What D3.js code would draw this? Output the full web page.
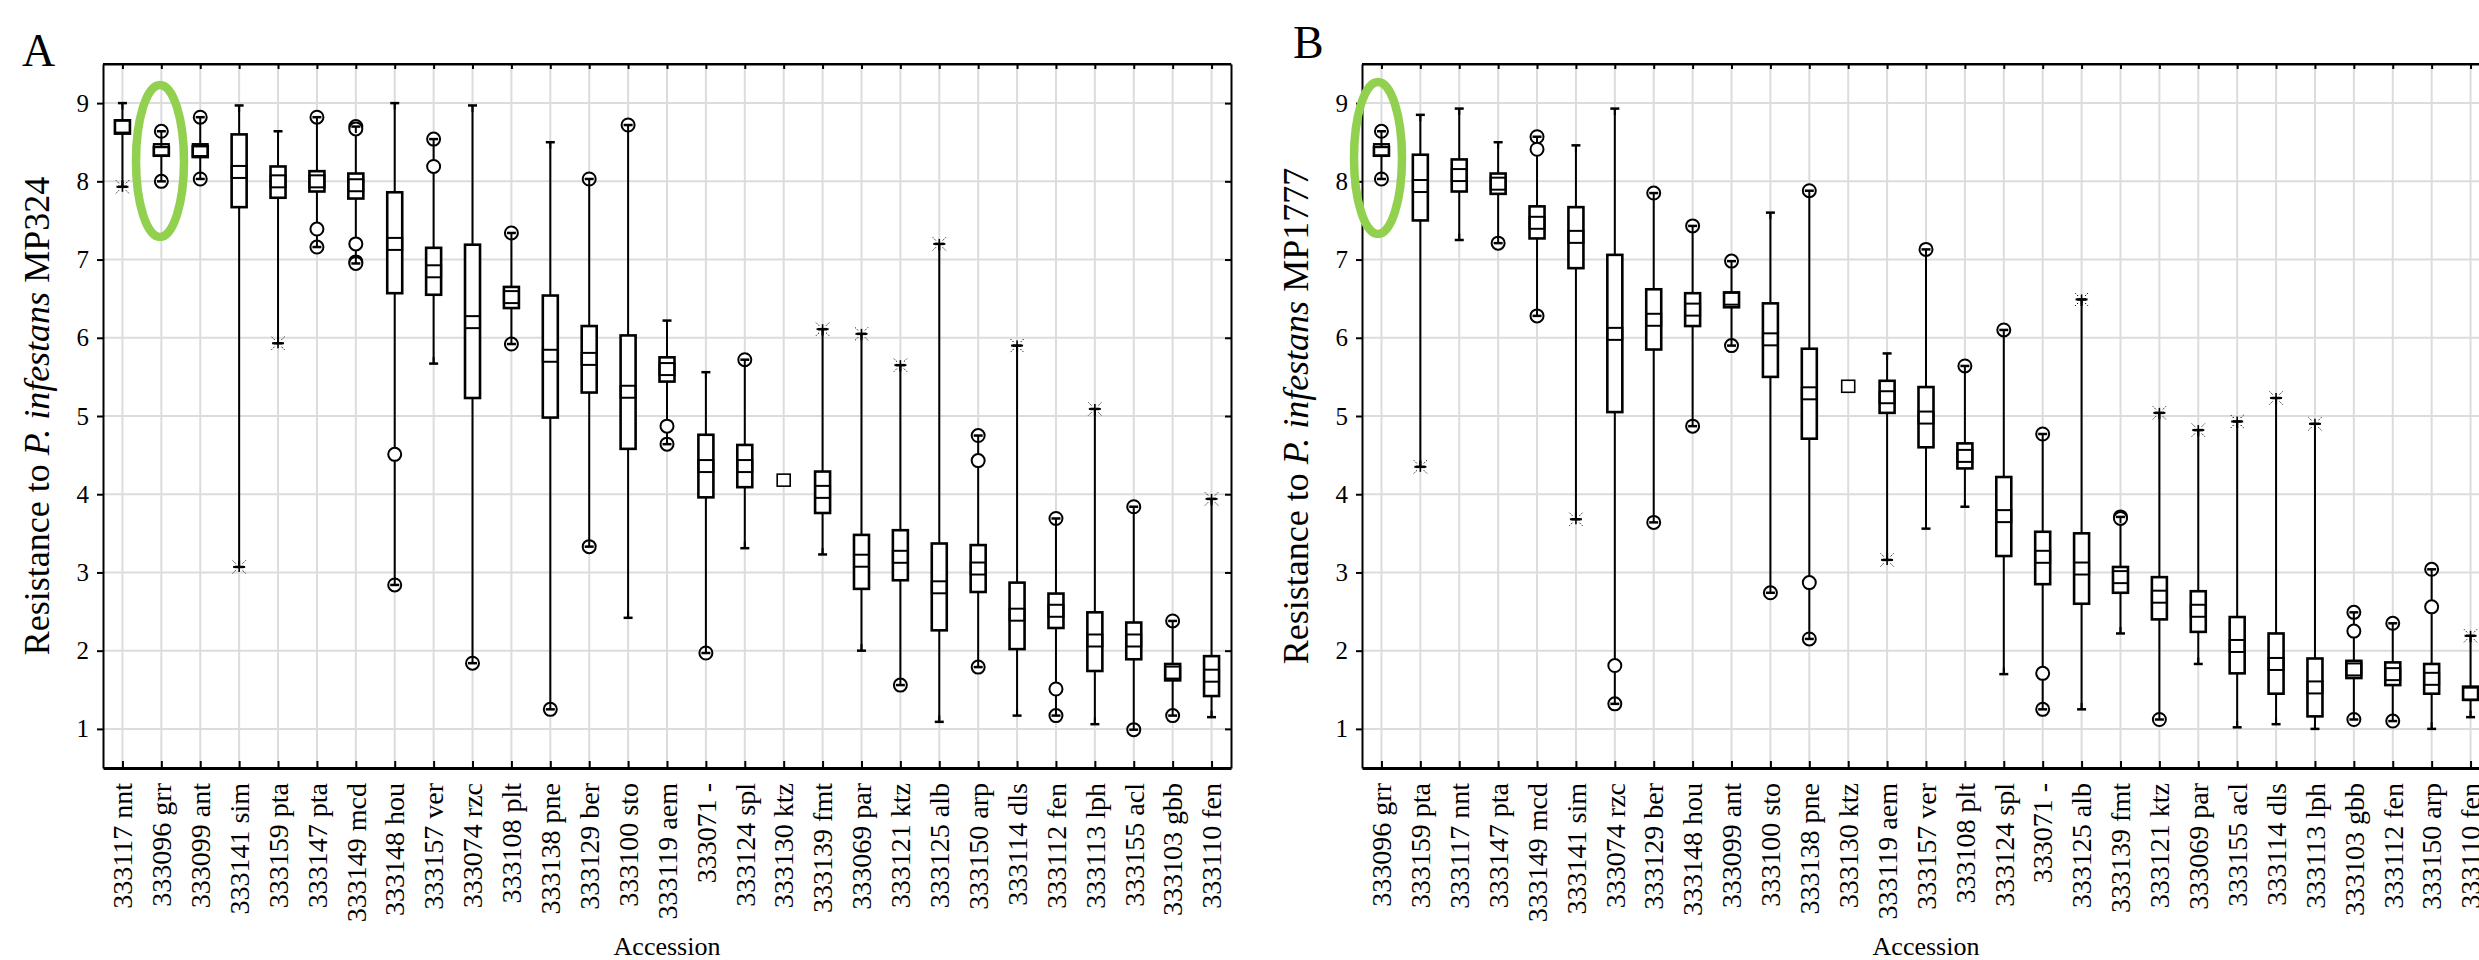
<!DOCTYPE html>
<html>
<head>
<meta charset="utf-8">
<script src="https://cdn.jsdelivr.net/npm/d3@7"></script>
<style>
  body { margin: 0; background: #fff; }
  text { font-family: "Liberation Serif", "Times New Roman", serif; fill: #000; }
</style>
</head>
<body>
<div id="chart-area"></div>
<script>
// ---- data ----
const yTicks = [1, 2, 3, 4, 5, 6, 7, 8, 9];

const accessionsA = ["333117 nnt","333096 grr","333099 ant","333141 sim","333159 pta","333147 pta","333149 mcd","333148 hou","333157 ver","333074 rzc","333108 plt","333138 pne","333129 ber","333100 sto","333119 aem","333071 -","333124 spl","333130 ktz","333139 fmt","333069 par","333121 ktz","333125 alb","333150 arp","333114 dls","333112 fen","333113 lph","333155 acl","333103 gbb","333110 fen"];
const minA = [7.93, 8.0, 8.03, 3.07, 5.93, 7.16, 6.95, 2.84, 5.67, 1.84, 5.92, 1.25, 3.33, 2.42, 4.64, 1.97, 3.31, 4.18, 3.23, 2.0, 1.56, 1.09, 1.79, 1.17, 1.17, 1.06, 0.99, 1.17, 1.15];
const q1A  = [8.61, 8.33, 8.31, 7.67, 7.79, 7.87, 7.78, 6.57, 6.55, 5.23, 6.38, 4.98, 5.3, 4.58, 5.44, 3.96, 4.09, 4.18, 3.76, 2.79, 2.9, 2.26, 2.75, 2.02, 2.29, 1.74, 1.89, 1.62, 1.42];
const medA = [8.7, 8.4, 8.4, 8.12, 8.0, 8.0, 7.95, 7.2, 6.85, 6.2, 6.52, 5.77, 5.73, 5.31, 5.6, 4.36, 4.36, 4.18, 4.03, 3.15, 3.2, 2.81, 3.05, 2.46, 2.51, 2.13, 2.13, 1.72, 1.68];
const q3A  = [8.78, 8.44, 8.45, 8.6, 8.19, 8.13, 8.1, 7.86, 7.15, 7.19, 6.65, 6.54, 6.15, 6.03, 5.75, 4.76, 4.63, 4.18, 4.29, 3.48, 3.54, 3.37, 3.35, 2.87, 2.73, 2.49, 2.36, 1.83, 1.93];
const maxA = [9.0, 8.64, 8.82, 8.97, 8.64, 8.82, 8.7, 9.0, 8.54, 8.97, 7.34, 8.5, 8.03, 8.72, 6.22, 5.56, 5.72, 4.18, 6.11, 6.05, 5.65, 7.2, 4.75, 5.9, 3.69, 5.09, 3.84, 2.38, 3.94];
const outliersA = [[], [8.64, 8.0], [8.82, 8.03], [], [], [8.82, 7.39, 7.16], [8.7, 8.67, 7.2, 6.97, 6.95], [4.51, 2.84], [8.54, 8.19], [1.84], [7.34, 5.92], [1.25], [8.03, 3.33], [8.72], [4.87, 4.64], [1.97], [5.72], [], [], [], [1.56], [], [4.75, 4.43, 1.79], [], [3.69, 1.51, 1.17], [], [3.84, 0.99], [2.38, 1.17], []];
const extremesA = [[7.93], [], [], [3.07], [5.93], [], [], [], [], [], [], [], [], [], [], [], [], [], [6.11], [6.05], [5.65], [7.2], [], [5.9], [], [5.09], [], [], [3.94]];

const accessionsB = ["333096 grr","333159 pta","333117 nnt","333147 pta","333149 mcd","333141 sim","333074 rzc","333129 ber","333148 hou","333099 ant","333100 sto","333138 pne","333130 ktz","333119 aem","333157 ver","333108 plt","333124 spl","333071 -","333125 alb","333139 fmt","333121 ktz","333069 par","333155 acl","333114 dls","333113 lph","333103 gbb","333112 fen","333150 arp","333110 fen"];
const minB = [8.03, 4.35, 7.25, 7.21, 6.28, 3.68, 1.32, 3.64, 4.87, 5.9, 2.74, 2.15, 5.38, 3.16, 3.56, 3.84, 1.7, 1.25, 1.25, 2.22, 1.12, 1.83, 1.02, 1.06, 1.0, 1.12, 1.1, 1.0, 1.15];
const q1B  = [8.33, 7.5, 7.87, 7.84, 7.27, 6.89, 5.05, 5.85, 6.15, 6.39, 5.5, 4.71, 5.38, 5.04, 4.6, 4.33, 3.21, 2.85, 2.6, 2.74, 2.4, 2.24, 1.71, 1.45, 1.16, 1.65, 1.56, 1.45, 1.37];
const medB = [8.4, 7.94, 8.08, 7.97, 7.47, 7.29, 6.05, 6.23, 6.36, 6.5, 5.98, 5.29, 5.38, 5.24, 4.98, 4.49, 3.72, 3.2, 3.05, 2.94, 2.69, 2.51, 2.06, 1.83, 1.53, 1.76, 1.7, 1.64, 1.45];
const q3B  = [8.44, 8.34, 8.28, 8.1, 7.68, 7.67, 7.06, 6.62, 6.57, 6.58, 6.44, 5.86, 5.38, 5.45, 5.37, 4.65, 4.22, 3.52, 3.5, 3.07, 2.94, 2.76, 2.43, 2.22, 1.9, 1.87, 1.85, 1.83, 1.54];
const maxB = [8.64, 8.85, 8.93, 8.5, 8.57, 8.46, 8.93, 7.85, 7.43, 6.98, 7.6, 7.88, 5.38, 5.8, 7.13, 5.64, 6.1, 4.77, 6.49, 3.71, 5.04, 4.82, 4.93, 5.23, 4.9, 2.49, 2.35, 3.04, 2.19];
const outliersB = [[8.64, 8.03], [], [], [7.21], [8.57, 8.41, 6.28], [], [1.81, 1.32], [7.85, 3.64], [7.43, 4.87], [6.98, 5.9], [2.74], [7.88, 2.87, 2.15], [], [], [7.13], [5.64], [6.1], [4.77, 1.71, 1.25], [], [3.71, 3.69], [1.12], [], [], [], [], [2.49, 2.25, 1.12], [2.35, 1.1], [3.04, 2.56], []];
const extremesB = [[], [4.35], [], [], [], [3.68], [], [], [], [], [], [], [], [3.16], [], [], [], [], [6.49], [], [5.04], [4.82], [4.93], [5.23], [4.9], [], [], [], [2.19]];

// ---- layout ----
const WIDTH = 2479, HEIGHT = 960;
const TOP = 64, BOTTOM = 768;
const GRID = "#dcdcdc";
const GREEN = "#92d050";

const svg = d3.select("#chart-area").append("svg")
    .attr("width", WIDTH)
    .attr("height", HEIGHT)
    .style("display", "block")
    .style("background", "#fff");

const y = d3.scaleLinear().domain([0.5, 9.5]).range([BOTTOM, TOP]);

function drawPanel(p) {
    const x = d3.scalePoint()
        .domain(p.labels)
        .range([p.left, p.right])
        .padding(0.5);

    const g = svg.append("g");

    // grid
    g.selectAll(".hgrid").data(yTicks).join("line")
        .attr("class", "hgrid")
        .attr("x1", p.left).attr("x2", p.right)
        .attr("y1", d => y(d)).attr("y2", d => y(d))
        .attr("stroke", GRID).attr("stroke-width", 2);
    g.selectAll(".vgrid").data(p.labels).join("line")
        .attr("class", "vgrid")
        .attr("x1", d => x(d)).attr("x2", d => x(d))
        .attr("y1", TOP).attr("y2", BOTTOM)
        .attr("stroke", GRID).attr("stroke-width", 2);

    // axes
    const leftAxis = g.append("g")
        .attr("transform", `translate(${p.left},0)`)
        .call(d3.axisLeft(y).tickValues(yTicks).tickSizeInner(6).tickSizeOuter(0).tickPadding(8));
    leftAxis.selectAll("text").style("font-size", "25px").style("font-family", "Liberation Serif");

    g.append("g")
        .attr("transform", `translate(${p.right},0)`)
        .call(d3.axisLeft(y).tickValues(yTicks).tickSizeInner(6).tickSizeOuter(0).tickFormat(""));

    g.append("g")
        .attr("transform", `translate(0,${TOP})`)
        .call(d3.axisBottom(x).tickSizeInner(5).tickSizeOuter(0).tickFormat(""));

    const bottomAxis = g.append("g")
        .attr("transform", `translate(0,${BOTTOM})`)
        .call(d3.axisBottom(x).tickSizeInner(-7).tickSizeOuter(0));
    bottomAxis.select(".domain").attr("stroke-width", 3);
    bottomAxis.selectAll("text")
        .style("font-size", "28px")
        .style("font-family", "Liberation Serif")
        .attr("text-anchor", "end")
        .attr("transform", "rotate(-90)")
        .attr("x", -15)
        .attr("y", 0)
        .attr("dy", "0.33em");

    g.selectAll(".domain").attr("stroke", "#000");
    g.selectAll(".tick line").attr("stroke", "#000").attr("stroke-width", 2);
    g.selectAll(".domain:not([stroke-width])").attr("stroke-width", 2);

    // whiskers
    const idx = d3.range(p.labels.length);
    const cx = i => x(p.labels[i]);
    const single = i => p.mins[i] === p.maxs[i];

    g.selectAll(".whisker").data(idx.filter(i => !single(i))).join("line")
        .attr("class", "whisker")
        .attr("x1", cx).attr("x2", cx)
        .attr("y1", i => y(p.maxs[i])).attr("y2", i => y(p.mins[i]))
        .attr("stroke", "#000").attr("stroke-width", 2);

    // outliers (circles)
    const circ = [];
    idx.forEach(i => p.outliers[i].forEach(v => circ.push({ i, v })));
    g.selectAll(".outlier").data(circ).join("circle")
        .attr("class", "outlier")
        .attr("cx", d => cx(d.i)).attr("cy", d => y(d.v))
        .attr("r", 6.5)
        .attr("fill", "#fff").attr("stroke", "#000").attr("stroke-width", 2);

    // caps at whisker ends (with a short stem inside end circles)
    const ends = [];
    idx.filter(i => !single(i)).forEach(i => {
        ends.push({ i, v: p.maxs[i], dir: 1 });
        ends.push({ i, v: p.mins[i], dir: -1 });
    });
    g.selectAll(".cap").data(ends).join("line")
        .attr("class", "cap")
        .attr("x1", d => cx(d.i) - 4.5).attr("x2", d => cx(d.i) + 4.5)
        .attr("y1", d => y(d.v)).attr("y2", d => y(d.v))
        .attr("stroke", "#000").attr("stroke-width", 2.5);
    g.selectAll(".stem").data(ends).join("line")
        .attr("class", "stem")
        .attr("x1", d => cx(d.i)).attr("x2", d => cx(d.i))
        .attr("y1", d => y(d.v)).attr("y2", d => y(d.v) + d.dir * 6.5)
        .attr("stroke", "#000").attr("stroke-width", 2);

    // boxes
    g.selectAll(".box").data(idx.filter(i => !single(i))).join("rect")
        .attr("class", "box")
        .attr("x", i => cx(i) - 7.5).attr("width", 15)
        .attr("y", i => y(p.q3s[i]))
        .attr("height", i => y(p.q1s[i]) - y(p.q3s[i]))
        .attr("fill", "#fff").attr("stroke", "#000").attr("stroke-width", 2.6);

    // median markers
    g.selectAll(".median").data(idx).join("rect")
        .attr("class", "median")
        .attr("x", i => cx(i) - (single(i) ? 6.5 : 7.5))
        .attr("width", i => single(i) ? 13 : 15)
        .attr("y", i => y(p.meds[i]) - 6)
        .attr("height", 12)
        .attr("fill", i => single(i) ? "#fff" : "none")
        .attr("stroke", "#000")
        .attr("stroke-width", i => single(i) ? 1.6 : 2);

    // extremes (asterisks)
    const ext = [];
    idx.forEach(i => p.extremes[i].forEach(v => ext.push({ i, v })));
    const star = g.selectAll(".extreme").data(ext).join("g")
        .attr("class", "extreme")
        .attr("transform", d => `translate(${cx(d.i)},${y(d.v)})`);
    star.append("line").attr("x1", -6).attr("x2", 6).attr("y1", 0).attr("y2", 0)
        .attr("stroke", "#000").attr("stroke-width", 2);
    star.append("line").attr("x1", 0).attr("x2", 0).attr("y1", -5).attr("y2", 5)
        .attr("stroke", "#000").attr("stroke-width", 1.6);
    [[1, 1], [1, -1], [-1, 1], [-1, -1]].forEach(([sx, sy]) => {
        star.append("line")
            .attr("x1", sx * 3.5).attr("y1", sy * 3.5)
            .attr("x2", sx * 6.5).attr("y2", sy * 6.5)
            .attr("stroke", "#000").attr("stroke-width", 1)
            .attr("stroke-dasharray", "1.5,1.5");
    });

    // frame: top and right lines drawn by axes; add plain top line
    g.append("line")
        .attr("x1", p.left).attr("x2", p.right)
        .attr("y1", TOP).attr("y2", TOP)
        .attr("stroke", "#000").attr("stroke-width", 2);

    // highlight ellipse
    g.append("ellipse")
        .attr("cx", p.ellipse.cx).attr("cy", p.ellipse.cy)
        .attr("rx", 24).attr("ry", 76)
        .attr("fill", "none").attr("stroke", GREEN).attr("stroke-width", 8.5);

    // y axis title
    const yt = g.append("text")
        .attr("transform", `translate(${p.titleX},416) rotate(-90)`)
        .attr("text-anchor", "middle")
        .style("font-size", "36px");
    yt.append("tspan").text("Resistance to ");
    yt.append("tspan").style("font-style", "italic").text("P. infestans");
    yt.append("tspan").text(" " + p.isolate);

    // x axis title
    g.append("text")
        .attr("x", (p.left + p.right) / 2)
        .attr("y", 955)
        .attr("text-anchor", "middle")
        .style("font-size", "26px")
        .text("Accession");

    // panel letter
    g.append("text")
        .attr("x", p.letterX).attr("y", p.letterY)
        .style("font-size", "46px")
        .text(p.letter);
}

drawPanel({
    labels: accessionsA, mins: minA, q1s: q1A, meds: medA, q3s: q3A, maxs: maxA,
    outliers: outliersA, extremes: extremesA,
    left: 103, right: 1231, isolate: "MP324", titleX: 49,
    letter: "A", letterX: 22, letterY: 66,
    ellipse: { cx: 160, cy: 161 }
});

drawPanel({
    labels: accessionsB, mins: minB, q1s: q1B, meds: medB, q3s: q3B, maxs: maxB,
    outliers: outliersB, extremes: extremesB,
    left: 1362, right: 2490, isolate: "MP1777", titleX: 1308,
    letter: "B", letterX: 1293, letterY: 58,
    ellipse: { cx: 1378, cy: 158 }
});
</script>
</body>
</html>
